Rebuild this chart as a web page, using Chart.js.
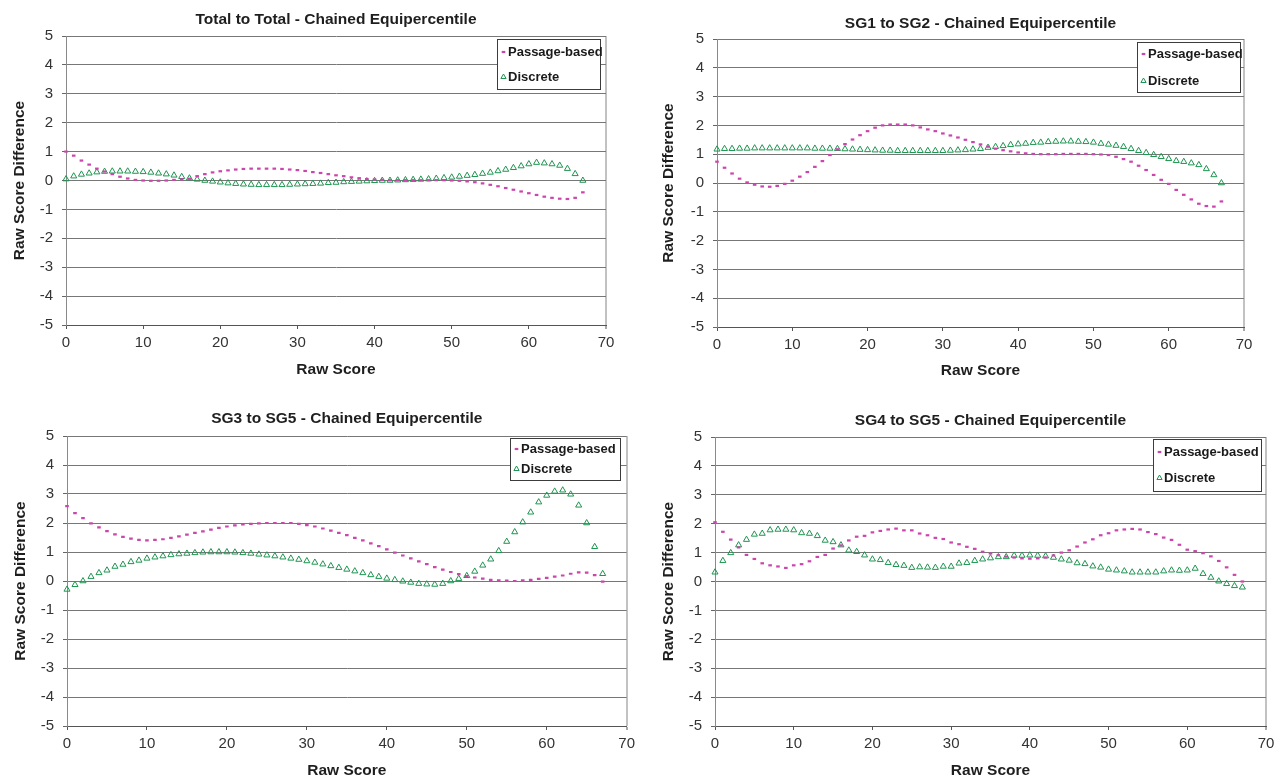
<!DOCTYPE html>
<html>
<head>
<meta charset="utf-8">
<script src="https://cdn.jsdelivr.net/npm/chart.js@4.4.1/dist/chart.umd.min.js"></script>
<style>
  html, body { margin: 0; padding: 0; background: #fff; overflow: hidden; }
  body { width: 1283px; height: 777px; position: relative; }
  canvas { position: absolute; }
</style>
</head>
<body>
<canvas id="c1"></canvas>
<canvas id="c2"></canvas>
<canvas id="c3"></canvas>
<canvas id="c4"></canvas>
<script>
// x values (raw score points)
const rawScores = [0, 1, 2, 3, 4, 5, 6, 7, 8, 9, 10, 11, 12, 13, 14, 15, 16, 17, 18, 19,
  20, 21, 22, 23, 24, 25, 26, 27, 28, 29, 30, 31, 32, 33, 34, 35, 36, 37, 38, 39,
  40, 41, 42, 43, 44, 45, 46, 47, 48, 49, 50, 51, 52, 53, 54, 55, 56, 57, 58, 59,
  60, 61, 62, 63, 64, 65, 66, 67];

const seriesNames = ["Passage-based", "Discrete"];
const yTickValues = [-5, -4, -3, -2, -1, 0, 1, 2, 3, 4, 5];
const xTickValues = [0, 10, 20, 30, 40, 50, 60, 70];

// Total to Total
const totalPassage = [1.00, 0.86, 0.69, 0.55, 0.41, 0.31, 0.22, 0.13, 0.07, 0.02,
  0.00, -0.01, -0.01, 0.00, 0.02, 0.04, 0.06, 0.15, 0.22, 0.28,
  0.32, 0.35, 0.38, 0.40, 0.41, 0.41, 0.41, 0.41, 0.40, 0.38,
  0.36, 0.33, 0.29, 0.26, 0.22, 0.18, 0.15, 0.11, 0.08, 0.05,
  0.03, 0.02, 0.01, 0.01, 0.01, 0.01, 0.01, 0.01, 0.01, 0.01,
  0.00, -0.01, -0.03, -0.06, -0.10, -0.15, -0.20, -0.26, -0.32, -0.38,
  -0.44, -0.50, -0.56, -0.60, -0.63, -0.64, -0.60, -0.41];
const totalDiscrete = [0.05, 0.15, 0.21, 0.25, 0.29, 0.31, 0.32, 0.32, 0.32, 0.31,
  0.30, 0.28, 0.25, 0.22, 0.18, 0.13, 0.08, 0.04, 0.00, -0.03,
  -0.06, -0.09, -0.11, -0.13, -0.14, -0.15, -0.15, -0.15, -0.15, -0.14,
  -0.13, -0.12, -0.11, -0.10, -0.08, -0.07, -0.05, -0.04, -0.03, -0.02,
  -0.01, 0.00, 0.00, 0.01, 0.02, 0.03, 0.04, 0.05, 0.07, 0.09,
  0.11, 0.14, 0.17, 0.20, 0.24, 0.28, 0.33, 0.38, 0.44, 0.50,
  0.57, 0.62, 0.60, 0.57, 0.52, 0.41, 0.23, 0.00];

// SG1 to SG2
const sg12Passage = [0.74, 0.53, 0.33, 0.15, 0.02, -0.06, -0.12, -0.13, -0.10, -0.03,
  0.08, 0.22, 0.38, 0.56, 0.76, 0.97, 1.17, 1.35, 1.51, 1.66,
  1.80, 1.92, 2.00, 2.03, 2.03, 2.03, 2.00, 1.93, 1.86, 1.80,
  1.72, 1.65, 1.58, 1.50, 1.42, 1.34, 1.26, 1.19, 1.14, 1.10,
  1.06, 1.03, 1.01, 1.00, 1.00, 1.00, 1.01, 1.01, 1.01, 1.01,
  1.00, 0.99, 0.97, 0.91, 0.83, 0.74, 0.60, 0.45, 0.28, 0.11,
  -0.03, -0.24, -0.41, -0.57, -0.72, -0.80, -0.82, -0.64];
const sg12Discrete = [1.17, 1.19, 1.19, 1.20, 1.20, 1.21, 1.21, 1.21, 1.21, 1.21,
  1.21, 1.21, 1.21, 1.20, 1.20, 1.20, 1.19, 1.18, 1.17, 1.16,
  1.15, 1.14, 1.13, 1.13, 1.12, 1.12, 1.12, 1.12, 1.12, 1.12,
  1.12, 1.13, 1.14, 1.15, 1.17, 1.19, 1.23, 1.26, 1.29, 1.33,
  1.35, 1.37, 1.40, 1.41, 1.43, 1.44, 1.45, 1.45, 1.44, 1.43,
  1.41, 1.37, 1.34, 1.30, 1.26, 1.19, 1.12, 1.05, 0.98, 0.91,
  0.84, 0.77, 0.74, 0.69, 0.63, 0.49, 0.28, 0.00];

// SG3 to SG5
const sg35Passage = [2.58, 2.34, 2.17, 1.99, 1.85, 1.72, 1.61, 1.52, 1.46, 1.42,
  1.40, 1.42, 1.44, 1.49, 1.54, 1.60, 1.66, 1.71, 1.77, 1.83,
  1.88, 1.92, 1.95, 1.97, 1.99, 2.00, 2.00, 2.00, 2.00, 1.97,
  1.93, 1.88, 1.81, 1.74, 1.66, 1.58, 1.49, 1.40, 1.30, 1.20,
  1.09, 0.98, 0.88, 0.78, 0.68, 0.58, 0.48, 0.39, 0.31, 0.24,
  0.17, 0.12, 0.08, 0.04, 0.02, 0.01, 0.00, 0.02, 0.04, 0.07,
  0.11, 0.15, 0.19, 0.25, 0.30, 0.29, 0.20, -0.02];
const sg35Discrete = [-0.29, -0.13, 0.00, 0.15, 0.28, 0.37, 0.50, 0.57, 0.66, 0.71,
  0.78, 0.82, 0.86, 0.90, 0.93, 0.95, 0.97, 0.99, 1.00, 1.00,
  1.00, 0.99, 0.97, 0.95, 0.92, 0.89, 0.86, 0.82, 0.78, 0.74,
  0.69, 0.64, 0.58, 0.52, 0.46, 0.40, 0.34, 0.28, 0.21, 0.15,
  0.09, 0.04, -0.01, -0.05, -0.09, -0.11, -0.12, -0.09, 0.00, 0.08,
  0.18, 0.33, 0.54, 0.75, 1.04, 1.36, 1.69, 2.03, 2.37, 2.72,
  2.95, 3.09, 3.13, 2.99, 2.61, 2.00, 1.18, 0.25];

// SG4 to SG5
const sg45Passage = [2.05, 1.72, 1.45, 1.18, 0.92, 0.78, 0.63, 0.56, 0.52, 0.47,
  0.56, 0.60, 0.70, 0.85, 0.92, 1.14, 1.25, 1.42, 1.55, 1.58,
  1.70, 1.75, 1.80, 1.83, 1.77, 1.77, 1.66, 1.60, 1.51, 1.47,
  1.35, 1.29, 1.20, 1.13, 1.03, 0.97, 0.91, 0.86, 0.83, 0.80,
  0.79, 0.80, 0.83, 0.90, 1.00, 1.08, 1.21, 1.35, 1.46, 1.60,
  1.67, 1.77, 1.80, 1.82, 1.80, 1.71, 1.64, 1.52, 1.44, 1.27,
  1.10, 1.05, 0.98, 0.87, 0.71, 0.49, 0.23, 0.00];
const sg45Discrete = [0.32, 0.72, 0.99, 1.26, 1.45, 1.63, 1.66, 1.78, 1.80, 1.80,
  1.78, 1.68, 1.66, 1.58, 1.42, 1.37, 1.26, 1.08, 1.03, 0.91,
  0.77, 0.75, 0.65, 0.58, 0.55, 0.48, 0.50, 0.49, 0.48, 0.52,
  0.52, 0.63, 0.65, 0.72, 0.77, 0.81, 0.85, 0.85, 0.90, 0.90,
  0.91, 0.90, 0.88, 0.83, 0.77, 0.73, 0.64, 0.61, 0.53, 0.49,
  0.42, 0.39, 0.36, 0.32, 0.32, 0.32, 0.32, 0.36, 0.39, 0.38,
  0.39, 0.45, 0.27, 0.14, 0.01, -0.08, -0.15, -0.20];

const FONT = '"Liberation Sans", Arial, Helvetica, sans-serif';
const PINK = '#cc45ac';
const GREEN = '#1e9550';

Chart.defaults.font.family = FONT;

// legend drawn as a framed box inside the plot
const boxLegend = {
  id: 'boxLegend',
  afterDatasetsDraw(chart, args, opts) {
    const ctx = chart.ctx;
    ctx.save();
    ctx.fillStyle = '#fff';
    ctx.fillRect(opts.x, opts.y, opts.w, opts.h);
    ctx.strokeStyle = '#3c3c3c';
    ctx.lineWidth = 1;
    ctx.strokeRect(opts.x + 0.5, opts.y + 0.5, opts.w, opts.h);
    ctx.font = 'bold 13px ' + FONT;
    ctx.textBaseline = 'middle';
    ctx.textAlign = 'left';
    chart.data.datasets.forEach((ds, i) => {
      const ry = opts.rows[i];
      ctx.strokeStyle = ds.borderColor;
      ctx.fillStyle = '#fff';
      ctx.lineWidth = ds.borderWidth;
      Chart.helpers.drawPoint(ctx, {
        pointStyle: ds.pointStyle, radius: ds.legendRadius, borderWidth: ds.borderWidth, rotation: 0
      }, opts.x + 6.5, ry);
      ctx.fillStyle = '#1a1a1a';
      ctx.fillText(ds.label, opts.x + 11, ry + 0.5);
    });
    ctx.restore();
  }
};

function makePanel(id, box, area, titleText, passage, discrete, legend) {
  const canvas = document.getElementById(id);
  canvas.width = box.w;
  canvas.height = box.h;
  canvas.style.left = box.x + 'px';
  canvas.style.top = box.y + 'px';

  const lh = 15.5 * 1.2;
  const titleTop = area.titleY - box.y - lh / 2;
  const yScaleW = area.L - box.x;
  const xScaleH = box.y + box.h - area.B;

  new Chart(canvas, {
    type: 'scatter',
    data: {
      datasets: [
        {
          label: seriesNames[0],
          data: rawScores.map((x, i) => ({ x: x, y: passage[i] })),
          pointStyle: 'line',
          pointRadius: 1.8,
          legendRadius: 1.8,
          borderWidth: 2.2,
          borderColor: PINK,
          backgroundColor: PINK,
          showLine: false,
          clip: 8
        },
        {
          label: seriesNames[1],
          data: rawScores.map((x, i) => ({ x: x, y: discrete[i] })),
          pointStyle: 'triangle',
          pointRadius: 3.5,
          legendRadius: 3,
          borderWidth: 1,
          borderColor: GREEN,
          backgroundColor: 'rgba(255,255,255,0)',
          showLine: false,
          clip: 8
        }
      ]
    },
    options: {
      responsive: false,
      animation: false,
      devicePixelRatio: 1,
      layout: { padding: { left: 0, top: 0, right: box.x + box.w - area.R, bottom: 0 } },
      plugins: {
        legend: { display: false },
        tooltip: { enabled: false },
        title: {
          display: true,
          text: titleText,
          fullSize: false,
          color: '#1e1e1e',
          font: { size: 15.5, weight: 'bold' },
          padding: { top: titleTop, bottom: area.T - box.y - titleTop - lh }
        },
        boxLegend: {
          x: legend.x - box.x, y: legend.y - box.y, w: legend.w, h: legend.h,
          rows: legend.rows.map(r => r - box.y)
        }
      },
      scales: {
        x: {
          type: 'linear',
          min: xTickValues[0],
          max: xTickValues[xTickValues.length - 1],
          afterBuildTicks: (s) => { s.ticks = xTickValues.map(v => ({ value: v })); },
          afterFit: (s) => { s.height = xScaleH; },
          ticks: { color: '#333', font: { size: 15 }, padding: 5, maxRotation: 0 },
          grid: {
            drawOnChartArea: true,
            drawTicks: true,
            tickLength: 4,
            tickColor: '#555',
            tickWidth: 1,
            color: (c) => (c.tick && c.tick.value === 70) ? '#c2c2c2' : 'rgba(0,0,0,0)',
            lineWidth: (c) => (c.tick && c.tick.value === 70) ? 2 : 1
          },
          border: { display: true, color: '#555', width: 1 },
          title: {
            display: true,
            text: 'Raw Score',
            color: '#1e1e1e',
            font: { size: 15.5, weight: 'bold' },
            padding: { top: 0, bottom: box.y + box.h - area.xTitleY - lh / 2 }
          }
        },
        y: {
          type: 'linear',
          min: yTickValues[0],
          max: yTickValues[yTickValues.length - 1],
          afterBuildTicks: (s) => { s.ticks = yTickValues.map(v => ({ value: v })); },
          afterFit: (s) => { s.width = yScaleW; },
          ticks: { color: '#333', font: { size: 15 }, padding: 9 },
          grid: {
            color: '#777',
            lineWidth: 1,
            drawTicks: true,
            tickLength: 4,
            tickColor: '#666'
          },
          border: { display: true, color: '#8a8a8a', width: 1 },
          title: {
            display: true,
            text: 'Raw Score Difference',
            color: '#1e1e1e',
            font: { size: 15.5, weight: 'bold' },
            padding: { top: area.yTitleX - box.x - lh / 2, bottom: 0 }
          }
        }
      }
    },
    plugins: [boxLegend]
  });
}

makePanel('c1', { x: 0, y: 0, w: 640, h: 388 },
  { L: 66, T: 36, R: 606, B: 325, titleY: 20, xTitleY: 370, yTitleX: 20 },
  'Total to Total - Chained Equipercentile', totalPassage, totalDiscrete,
  { x: 497, y: 39, w: 103, h: 50, rows: [52, 77] });

makePanel('c2', { x: 640, y: 0, w: 643, h: 388 },
  { L: 717, T: 39, R: 1244, B: 327, titleY: 24, xTitleY: 371, yTitleX: 669 },
  'SG1 to SG2 - Chained Equipercentile', sg12Passage, sg12Discrete,
  { x: 1137, y: 42, w: 103, h: 50, rows: [54, 81] });

makePanel('c3', { x: 0, y: 390, w: 640, h: 395 },
  { L: 67, T: 436, R: 627, B: 726, titleY: 419, xTitleY: 771, yTitleX: 21 },
  'SG3 to SG5 - Chained Equipercentile', sg35Passage, sg35Discrete,
  { x: 510, y: 438, w: 110, h: 42, rows: [449, 469] });

makePanel('c4', { x: 640, y: 390, w: 643, h: 395 },
  { L: 715, T: 437, R: 1266, B: 726, titleY: 421, xTitleY: 771, yTitleX: 669 },
  'SG4 to SG5 - Chained Equipercentile', sg45Passage, sg45Discrete,
  { x: 1153, y: 439, w: 108, h: 52, rows: [452, 478] });
</script>
</body>
</html>
